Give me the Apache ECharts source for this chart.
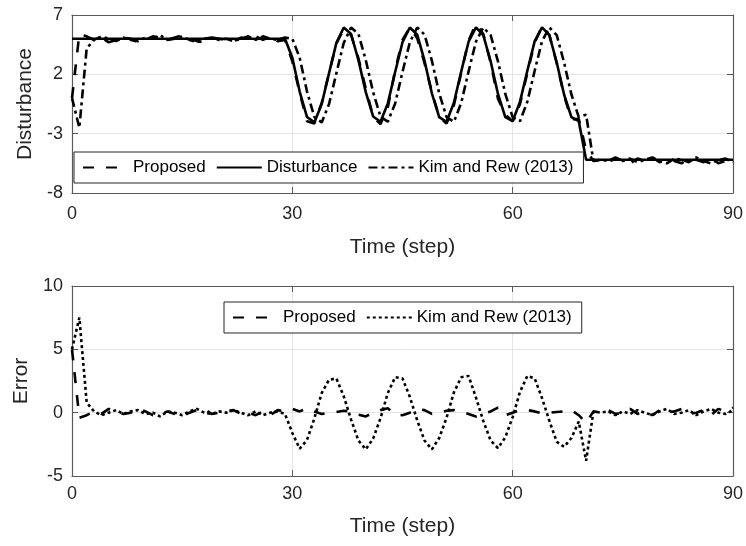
<!DOCTYPE html>
<html>
<head>
<meta charset="utf-8">
<script src="https://cdn.jsdelivr.net/npm/echarts@6/dist/echarts.min.js"></script>
<style>
  html, body { margin: 0; padding: 0; background: #fff; }
  #chart { width: 746px; height: 546px; }
</style>
</head>
<body>
<div id="chart"></div>
<script>
// time steps 0..90
const steps = Array.from({ length: 91 }, (_, i) => i);

const disturbance = [
  5, 5, 5, 5, 5, 5, 5, 5, 5, 5,
  5, 5, 5, 5, 5, 5, 5, 5, 5, 5,
  5, 5, 5, 5, 5, 5, 5, 5, 5, 5,
  3.4, 0.55, -1.6, -2.05, -0.5, 2.1, 4.65, 5.95, 5.4, 3.2,
  0.5, -1.55, -2.0, -0.45, 2.2, 4.7, 5.95, 5.35, 3.15, 0.4,
  -1.6, -2.0, -0.4, 2.25, 4.75, 5.95, 5.3, 3.1, 0.35, -1.6,
  -1.95, -0.3, 2.3, 4.8, 5.95, 5.3, 3.0, 0.3, -1.6, -1.95,
  -5.2, -5.2, -5.2, -5.2, -5.2, -5.2, -5.2, -5.2, -5.2, -5.2,
  -5.2, -5.2, -5.2, -5.2, -5.2, -5.2, -5.2, -5.2, -5.2, -5.2, -5.2
];

const proposedEst = [
  0, 5.4, 5.2, 4.9, 5.1, 4.7, 4.9, 5.1, 5.0, 4.7,
  4.9, 5.2, 5.1, 4.9, 5.1, 5.3, 5.0, 4.8, 4.7, 5.1,
  5.0, 4.9, 4.8, 5.1, 5.0, 5.2, 4.9, 5.2, 4.8, 4.9,
  3.1, 0.45, -1.95, -2.15, -0.4, 2.1, 4.6, 5.8, 5.3, 3.35,
  0.8, -1.55, -2.2, -0.8, 2.35, 4.9, 5.95, 5.05, 2.95, 0.5,
  -1.6, -2.15, -0.6, 2.15, 4.85, 6.25, 5.4, 3.0, -0.05, -1.4,
  -1.95, -0.5, 2.1, 4.7, 6.0, 5.3, 2.95, 0.2, -1.8, -1.75,
  -4.4, -5.3, -5.2, -5.4, -5.1, -5.2, -5.5, -5.1, -5.3, -5.0,
  -5.4, -5.2, -5.3, -5.5, -5.1, -5.2, -5.4, -5.0, -5.5, -5.3, -5.6
];

const kimEst = [
  0, -2.5, 4.2, 4.9, 5.2, 5.0, 4.8, 5.1, 4.9, 4.8,
  5.1, 5.0, 5.3, 4.9, 5.0, 5.2, 4.9, 4.7, 5.0, 5.1,
  4.9, 5.0, 4.8, 5.0, 5.2, 4.9, 5.2, 5.0, 4.9, 5.1,
  5.0, 3.4, 0.55, -1.6, -2.05, -0.5, 2.1, 4.65, 5.95, 5.4,
  3.2, 0.5, -1.55, -2.0, -0.45, 2.2, 4.7, 5.95, 5.35, 3.15,
  0.4, -1.6, -2.0, -0.4, 2.25, 4.75, 5.95, 5.3, 3.1, 0.35,
  -1.6, -1.95, -0.3, 2.3, 4.8, 5.95, 5.3, 3.0, 0.3, -1.6,
  -1.4, -5.3, -5.2, -5.3, -5.0, -5.3, -5.1, -5.4, -5.2, -5.0,
  -5.3, -5.5, -5.1, -5.2, -5.4, -5.0, -5.3, -5.5, -5.2, -5.1, -5.4
];

const proposedErr = [
  5.0, -0.4, -0.2, 0.1, -0.1, 0.3, 0.1, -0.1, 0, 0.3,
  0.1, -0.2, -0.1, 0.1, -0.1, -0.3, 0, 0.2, 0.3, -0.1,
  0, 0.1, 0.2, -0.1, 0, -0.2, 0.1, -0.2, 0.2, 0.1,
  0.3, 0.1, 0.35, 0.1, -0.1, 0, 0.05, 0.15, 0.1, -0.15,
  -0.3, 0, 0.2, 0.35, -0.15, -0.2, 0, 0.3, 0.2, -0.1,
  0, 0.15, 0.2, 0.1, -0.1, -0.3, -0.1, 0.1, 0.4, -0.2,
  0, 0.2, 0.2, 0.1, -0.05, 0, 0.05, 0.1, 0.2, -0.2,
  -0.8, 0.1, 0, 0.2, -0.1, 0, 0.3, -0.1, 0.1, -0.2,
  0.2, 0, 0.1, 0.3, -0.1, 0, 0.2, -0.2, 0.3, 0.1, 0.4
];

const kimErr = [
  5.0, 7.5, 0.8, 0.1, -0.2, 0.0, 0.2, -0.1, 0.1, 0.2,
  -0.1, 0.0, -0.3, 0.1, 0.0, -0.2, 0.1, 0.3, 0.0, -0.1,
  0.1, 0.0, 0.2, 0.0, -0.2, 0.1, -0.2, 0.0, 0.1, -0.1,
  -1.6, -2.85, -2.15, -0.45, 1.55, 2.6, 2.7, 1.3, -0.55, -2.2,
  -2.9, -2.05, -0.45, 1.55, 2.8, 2.7, 1.25, -0.6, -2.2, -2.9,
  -2.0, -0.4, 1.6, 2.8, 2.9, 1.2, -0.65, -2.2, -2.8, -1.95,
  -0.35, 1.65, 2.9, 2.7, 1.15, -0.65, -2.3, -2.7, -2.0, -0.7,
  -3.8, 0.1, 0.0, 0.1, -0.2, 0.1, -0.1, 0.2, 0.0, -0.2,
  0.1, 0.3, -0.1, 0.0, 0.2, -0.2, 0.1, 0.3, 0.0, -0.1, 0.2
];

const xTicks = { min: 0, max: 90, interval: 30 };
const topY = { min: -8, max: 7, interval: 5 };
const bottomY = { min: -5, max: 10, interval: 5 };

const FONT = '"Liberation Sans", Arial, Helvetica, sans-serif';
const INK = '#262626';
const FRAME = '#5a5a5a';
const GRIDLINE = '#e4e4e4';

const pairs = (arr) => steps.map((t, i) => [t, arr[i]]);

const frameLine = { show: true, onZero: false, lineStyle: { color: FRAME, width: 1.2 } };
const inTick = { show: true, inside: true, length: 6, lineStyle: { color: FRAME } };

const mainX = (gridIndex, labelMargin, nameGap) => ({
  type: 'value', gridIndex, ...xTicks,
  name: 'Time (step)', nameLocation: 'middle', nameGap,
  nameTextStyle: { fontSize: 21, color: INK, fontFamily: FONT },
  axisLine: frameLine, axisTick: inTick,
  axisLabel: { fontSize: 18, color: INK, margin: labelMargin, fontFamily: FONT },
  splitLine: { show: true, lineStyle: { color: GRIDLINE, width: 1 } }
});
const mirrorX = (gridIndex) => ({
  type: 'value', gridIndex, ...xTicks, position: 'top',
  axisLine: frameLine, axisTick: inTick,
  axisLabel: { show: false }, splitLine: { show: false }
});
const mainY = (gridIndex, ticks, name) => ({
  type: 'value', gridIndex, ...ticks,
  name, nameLocation: 'middle', nameGap: 30,
  nameTextStyle: { fontSize: 21, color: INK, fontFamily: FONT },
  axisLine: frameLine, axisTick: inTick,
  axisLabel: { fontSize: 18, color: INK, margin: 9, fontFamily: FONT },
  splitLine: { show: true, lineStyle: { color: GRIDLINE, width: 1 } }
});
const mirrorY = (gridIndex, ticks) => ({
  type: 'value', gridIndex, ...ticks, position: 'right',
  axisLine: frameLine, axisTick: inTick,
  axisLabel: { show: false }, splitLine: { show: false }
});

const line = (name, xi, yi, data, type) => ({
  name, type: 'line', xAxisIndex: xi, yAxisIndex: yi,
  data: pairs(data), symbol: 'none', animation: false,
  color: '#000',
  itemStyle: { color: '#000' },
  lineStyle: { color: '#000', width: 2.6, type, cap: 'butt' }
});

const legendBase = {
  orient: 'horizontal',
  itemWidth: 45, itemHeight: 14, itemGap: 10,
  padding: [7, 10, 7, 8],
  borderColor: INK, borderWidth: 1, backgroundColor: '#fff',
  itemStyle: { opacity: 0 },
  textStyle: { fontSize: 17, color: '#000', fontFamily: FONT },
  formatter: (n) => n.replace(/^err:/, '')
};

const chart = echarts.init(document.getElementById('chart'), null, { renderer: 'canvas' });
chart.setOption({
  animation: false,
  backgroundColor: '#fff',
  textStyle: { fontFamily: FONT },
  grid: [
    { left: 72, right: 13, top: 15, height: 178, show: false },
    { left: 72, right: 13, top: 286, height: 190, show: false }
  ],
  legend: [
    { ...legendBase, left: 74, top: 152,
      data: ['Proposed', 'Disturbance', 'Kim and Rew (2013)'] },
    { ...legendBase, left: 224, top: 302,
      data: ['err:Proposed', 'err:Kim and Rew (2013)'] }
  ],
  xAxis: [mainX(0, 12, 44), mirrorX(0), mainX(1, 9, 40), mirrorX(1)],
  yAxis: [mainY(0, topY, 'Disturbance'), mirrorY(0, topY), mainY(1, bottomY, 'Error'), mirrorY(1, bottomY)],
  series: [
    line('Disturbance', 0, 0, disturbance, 'solid'),
    line('Kim and Rew (2013)', 0, 0, kimEst, [9, 4, 3, 4]),
    line('Proposed', 0, 0, proposedEst, [11, 12]),
    line('err:Kim and Rew (2013)', 2, 2, kimErr, [3, 3]),
    line('err:Proposed', 2, 2, proposedErr, [11, 12])
  ]
});
</script>
</body>
</html>
